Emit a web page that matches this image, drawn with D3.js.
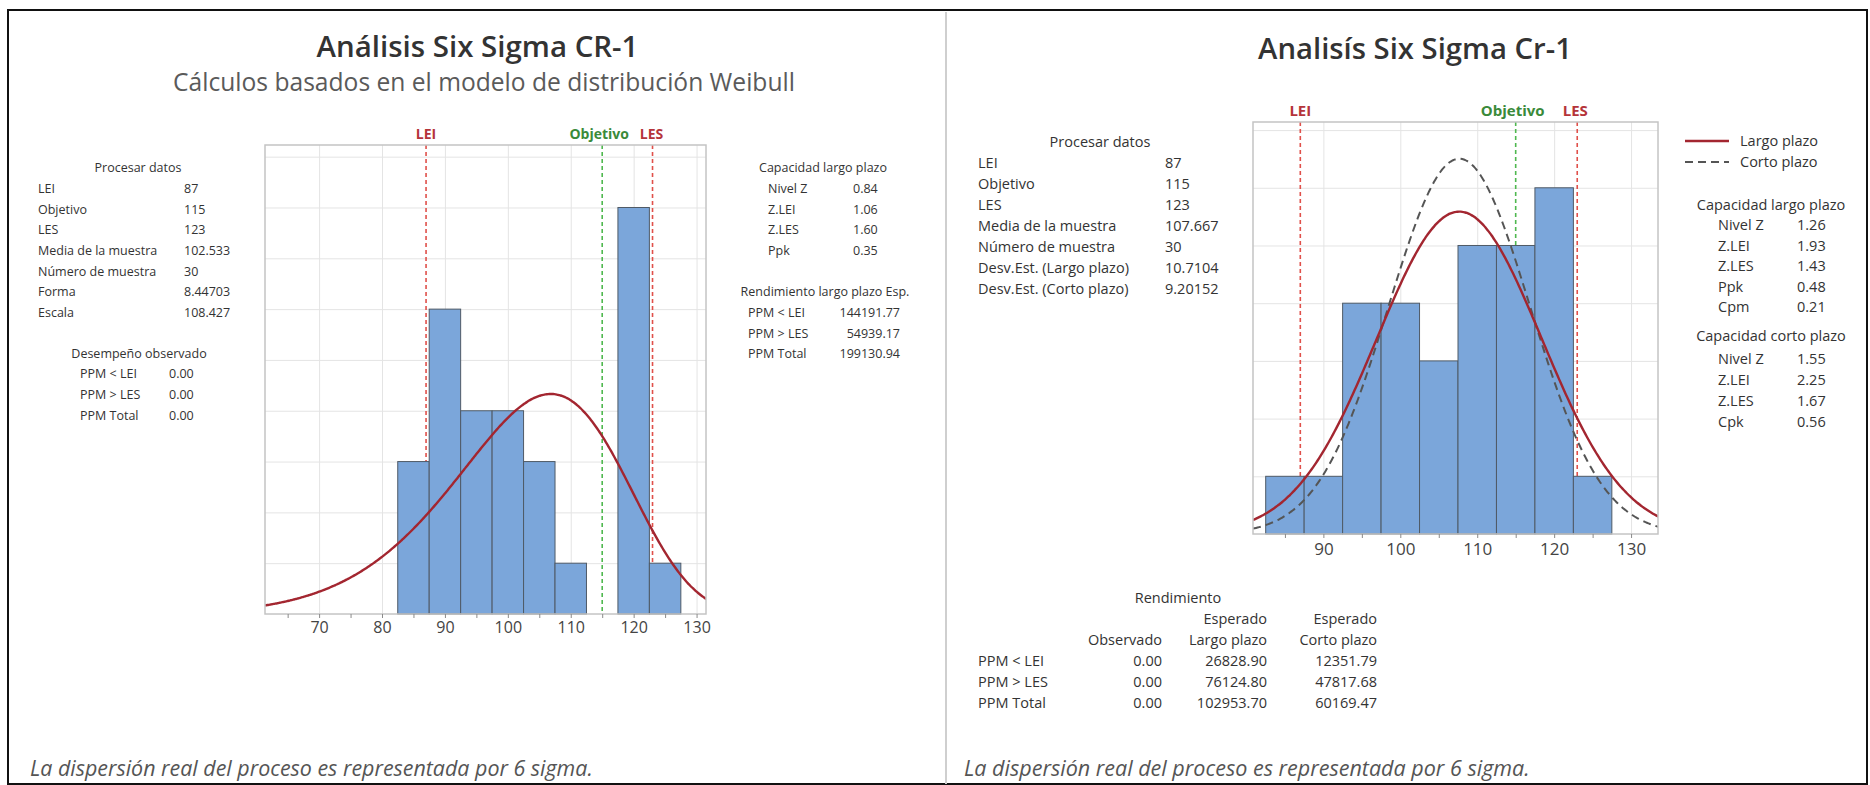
<!DOCTYPE html>
<html><head><meta charset="utf-8">
<script src="https://cdn.jsdelivr.net/npm/d3@7/dist/d3.min.js"></script>
<style>
body{margin:0;background:#fff;}
svg{display:block;font-family:"Open Sans","Noto Sans",sans-serif;}
</style></head>
<body><svg id="c" width="1870" height="785"></svg>
<script>
// ---------------- DATA ----------------
const binEdges = [82.5, 87.5, 92.5, 97.5, 102.5, 107.5, 112.5, 117.5, 122.5, 127.5];
const countsWeibull = [3, 6, 4, 4, 3, 1, 0, 8, 1];   // left chart (CR-1, Weibull)
const countsNormal  = [1, 1, 4, 4, 3, 5, 5, 6, 1];   // right chart (Cr-1, normal)
const xTicksLeft  = [70, 80, 90, 100, 110, 120, 130];
const xTicksRight = [90, 100, 110, 120, 130];
const specNames  = ["LEI", "Objetivo", "LES"];
const specValues = [87, 115, 123];
const sampleN = 30;
const weibullShape = 8.44703, weibullScale = 108.427;
const sampleMean = 107.667, sdLong = 10.7104, sdShort = 9.20152;

const leftProcessLabels = ["LEI","Objetivo","LES","Media de la muestra","Número de muestra","Forma","Escala"];
const leftProcessValues = ["87","115","123","102.533","30","8.44703","108.427"];
const leftObsLabels = ["PPM < LEI","PPM > LES","PPM Total"];
const leftObsValues = ["0.00","0.00","0.00"];
const leftCapLabels = ["Nivel Z","Z.LEI","Z.LES","Ppk"];
const leftCapValues = ["0.84","1.06","1.60","0.35"];
const leftYieldLabels = ["PPM < LEI","PPM > LES","PPM Total"];
const leftYieldValues = ["144191.77","54939.17","199130.94"];

const rightProcessLabels = ["LEI","Objetivo","LES","Media de la muestra","Número de muestra","Desv.Est. (Largo plazo)","Desv.Est. (Corto plazo)"];
const rightProcessValues = ["87","115","123","107.667","30","10.7104","9.20152"];
const rightLongLabels = ["Nivel Z","Z.LEI","Z.LES","Ppk","Cpm"];
const rightLongValues = ["1.26","1.93","1.43","0.48","0.21"];
const rightShortLabels = ["Nivel Z","Z.LEI","Z.LES","Cpk"];
const rightShortValues = ["1.55","2.25","1.67","0.56"];
const yieldRowLabels = ["PPM < LEI","PPM > LES","PPM Total"];
const yieldObserved = ["0.00","0.00","0.00"];
const yieldLong = ["26828.90","76124.80","102953.70"];
const yieldShort = ["12351.79","47817.68","60169.47"];

const footnote = "La dispersión real del proceso es representada por 6 sigma.";

// ---------------- DRAW ----------------
const svg = d3.select("#c");
const TXT = "#333";

function fitText(sel, w){
  const n = sel.node(); const cur = n.getComputedTextLength();
  const fs = parseFloat(sel.attr("font-size"));
  sel.attr("font-size", fs * w / cur);
}

// outer border and divider
svg.append("rect").attr("x",8).attr("y",10).attr("width",1859).attr("height",774)
  .attr("fill","none").attr("stroke","#111").attr("stroke-width",2);
svg.append("line").attr("x1",946).attr("x2",946).attr("y1",12).attr("y2",784)
  .attr("stroke","#cfcfcf").attr("stroke-width",2);

// titles
fitText(svg.append("text").attr("x",477.5).attr("y",57).attr("text-anchor","middle")
  .attr("font-size",30).attr("font-weight",600).attr("fill","#333").text("Análisis Six Sigma CR-1"),322);
fitText(svg.append("text").attr("x",484).attr("y",91).attr("text-anchor","middle")
  .attr("font-size",22).attr("fill","#5a5a5a").text("Cálculos basados en el modelo de distribución Weibull"),622);
fitText(svg.append("text").attr("x",1415).attr("y",59).attr("text-anchor","middle")
  .attr("font-size",30).attr("font-weight",600).attr("fill","#333").text("Analisís Six Sigma Cr-1"),314);

// footnotes
fitText(svg.append("text").attr("x",30).attr("y",776).attr("font-size",20).attr("font-style","italic")
  .attr("fill","#555").text(footnote),563);
fitText(svg.append("text").attr("x",964).attr("y",776).attr("font-size",20).attr("font-style","italic")
  .attr("fill","#555").text(footnote),566);

function weibullPdf(x){
  if (x <= 0) return 0;
  const z = x / weibullScale;
  return (weibullShape / weibullScale) * Math.pow(z, weibullShape - 1) * Math.exp(-Math.pow(z, weibullShape));
}
function normalPdf(x, m, s){
  return Math.exp(-0.5 * ((x - m) / s) ** 2) / (s * Math.sqrt(2 * Math.PI));
}

function drawPanel(cfg){
  const x = d3.scaleLinear().domain(cfg.xDomain).range([cfg.x0, cfg.x1]);
  const y = d3.scaleLinear().domain(cfg.yDomain).range([cfg.y1, cfg.y0]);
  const g = svg.append("g");
  const clipId = "clip" + cfg.id;
  svg.append("clipPath").attr("id", clipId).append("rect")
    .attr("x", cfg.x0).attr("y", cfg.y0).attr("width", cfg.x1 - cfg.x0).attr("height", cfg.y1 - cfg.y0);

  // horizontal grid
  g.append("g").attr("transform",`translate(${cfg.x0},0)`)
    .call(d3.axisLeft(y).tickValues(d3.range(1, Math.floor(cfg.yDomain[1]) + 1)).tickSize(-(cfg.x1 - cfg.x0)).tickFormat(""))
    .call(a => a.select(".domain").remove())
    .call(a => a.selectAll("line").attr("stroke","#e4e4e4"));
  // vertical grid
  g.append("g").attr("transform",`translate(0,${cfg.y1})`)
    .call(d3.axisBottom(x).tickValues(cfg.ticks).tickSize(-(cfg.y1 - cfg.y0)).tickFormat(""))
    .call(a => a.select(".domain").remove())
    .call(a => a.selectAll("line").attr("stroke","#e4e4e4"));

  // spec lines
  specValues.forEach((v, i) => {
    const col = specNames[i] === "Objetivo" ? "#4fb84f" : "#e0504a";
    g.append("line").attr("x1", x(v)).attr("x2", x(v)).attr("y1", cfg.y0).attr("y2", cfg.y1)
      .attr("stroke", col).attr("stroke-width", 1.6).attr("stroke-dasharray","4,3");
    g.append("text").attr("x", x(v) + (cfg.labelShift[i] || 0)).attr("y", cfg.y0 - 6)
      .attr("text-anchor","middle").attr("font-size", cfg.specFont).attr("font-weight", 700)
      .attr("fill", specNames[i] === "Objetivo" ? "#3a8a3a" : "#b5343a").text(specNames[i]);
  });

  // bars
  g.append("g").selectAll("rect").data(cfg.counts).join("rect")
    .attr("x", (d, i) => x(binEdges[i]))
    .attr("width", (d, i) => x(binEdges[i + 1]) - x(binEdges[i]))
    .attr("y", d => y(d)).attr("height", d => y(0) - y(d))
    .attr("fill", "#7ba6da").attr("stroke", "#4f5a66").attr("stroke-width", 1)
    .attr("display", d => d > 0 ? null : "none");

  // curves
  const xs = d3.range(cfg.xDomain[0], cfg.xDomain[1] + 0.2, 0.2);
  const line = d3.line().x(d => x(d[0])).y(d => y(d[1])).curve(d3.curveBasis);
  cfg.curves.forEach(c => {
    g.append("path").attr("clip-path", `url(#${clipId})`)
      .datum(xs.map(v => [v, c.fn(v) * sampleN * 5]))
      .attr("d", line).attr("fill","none").attr("stroke", c.color)
      .attr("stroke-width", c.width).attr("stroke-dasharray", c.dash || null);
  });

  // frame
  g.append("rect").attr("x", cfg.x0).attr("y", cfg.y0).attr("width", cfg.x1 - cfg.x0).attr("height", cfg.y1 - cfg.y0)
    .attr("fill","none").attr("stroke","#c4c4c4").attr("stroke-width",1.5);

  // x axis: minor ticks, labels
  const minor = d3.range(Math.ceil(cfg.xDomain[0] / 5) * 5, cfg.xDomain[1], 5);
  g.append("g").attr("transform",`translate(0,${cfg.y1})`)
    .call(d3.axisBottom(x).tickValues(minor).tickSize(4).tickFormat(""))
    .call(a => a.select(".domain").remove())
    .call(a => a.selectAll("line").attr("stroke","#8a8a8a"));
  g.append("g").attr("transform",`translate(0,${cfg.y1})`)
    .call(d3.axisBottom(x).tickValues(cfg.ticks).tickSize(0).tickPadding(cfg.tickPad))
    .call(a => a.select(".domain").remove())
    .call(a => a.selectAll("text").attr("font-size", cfg.tickFont).attr("fill","#444")
      .attr("font-family",'"Open Sans","Noto Sans",sans-serif'));
  return {x, y};
}

drawPanel({
  id: "L", x0: 265, x1: 706, y0: 145, y1: 614,
  xDomain: [61.4, 131.5], yDomain: [0, 9.23],
  ticks: xTicksLeft, counts: countsWeibull, labelShift: [0, -3, -1],
  specFont: 14, tickFont: 16, tickPad: 8,
  curves: [{fn: weibullPdf, color: "#a32630", width: 2.4}]
});
drawPanel({
  id: "R", x0: 1253, x1: 1658, y0: 122, y1: 534,
  xDomain: [80.85, 133.5], yDomain: [0, 7.14],
  ticks: xTicksRight, counts: countsNormal, labelShift: [0, -3, -2],
  specFont: 15, tickFont: 17, tickPad: 9,
  curves: [
    {fn: v => normalPdf(v, sampleMean, sdShort), color: "#555", width: 2, dash: "8,5"},
    {fn: v => normalPdf(v, sampleMean, sdLong), color: "#a32630", width: 2.4}
  ]
});

// ---- text tables ----
function txt(x, y, s, size, anchor, extra){
  const t = svg.append("text").attr("x", x).attr("y", y).attr("font-size", size)
    .attr("fill", TXT).attr("dominant-baseline","middle").attr("text-anchor", anchor || "start").text(s);
  return t;
}
function rows(labels, values, lx, vx, y0, dy, size, vAnchor){
  labels.forEach((l, i) => {
    txt(lx, y0 + i * dy, l, size);
    txt(vx, y0 + i * dy, values[i], size, vAnchor || "start");
  });
}

// left panel tables
txt(138, 169, "Procesar datos", 12.5, "middle");
rows(leftProcessLabels, leftProcessValues, 38, 184, 189.5, 20.7, 12.5);
txt(139, 355, "Desempeño observado", 12.5, "middle");
rows(leftObsLabels, leftObsValues, 80, 169, 375, 20.7, 12.5);
txt(823, 169, "Capacidad largo plazo", 12.5, "middle");
rows(leftCapLabels, leftCapValues, 768, 853, 189.5, 20.7, 12.5);
txt(825, 293, "Rendimiento largo plazo Esp.", 12.5, "middle");
rows(leftYieldLabels, leftYieldValues, 748, 900, 313.5, 20.7, 12.5, "end");

// right panel tables
txt(1100, 143, "Procesar datos", 14.5, "middle");
rows(rightProcessLabels, rightProcessValues, 978, 1165, 164, 21, 14.5);

// legend
svg.append("line").attr("x1",1685).attr("x2",1729).attr("y1",141).attr("y2",141)
  .attr("stroke","#a32630").attr("stroke-width",2.4);
txt(1740, 142, "Largo plazo", 14.5);
svg.append("line").attr("x1",1685).attr("x2",1729).attr("y1",162).attr("y2",162)
  .attr("stroke","#555").attr("stroke-width",2).attr("stroke-dasharray","8,5");
txt(1740, 163, "Corto plazo", 14.5);

txt(1771, 206, "Capacidad largo plazo", 14.5, "middle");
rows(rightLongLabels, rightLongValues, 1718, 1797, 226.5, 20.5, 14.5);
txt(1771, 337, "Capacidad corto plazo", 14.5, "middle");
rows(rightShortLabels, rightShortValues, 1718, 1797, 360, 21, 14.5);

// yield table
txt(1178, 599.5, "Rendimiento", 14.5, "middle");
txt(1267, 620.5, "Esperado", 14.5, "end");
txt(1377, 620.5, "Esperado", 14.5, "end");
txt(1162, 641.5, "Observado", 14.5, "end");
txt(1267, 641.5, "Largo plazo", 14.5, "end");
txt(1377, 641.5, "Corto plazo", 14.5, "end");
yieldRowLabels.forEach((l, i) => {
  const yy = 662.5 + i * 20.7;
  txt(978, yy, l, 14.5);
  txt(1162, yy, yieldObserved[i], 14.5, "end");
  txt(1267, yy, yieldLong[i], 14.5, "end");
  txt(1377, yy, yieldShort[i], 14.5, "end");
});
</script></body></html>
